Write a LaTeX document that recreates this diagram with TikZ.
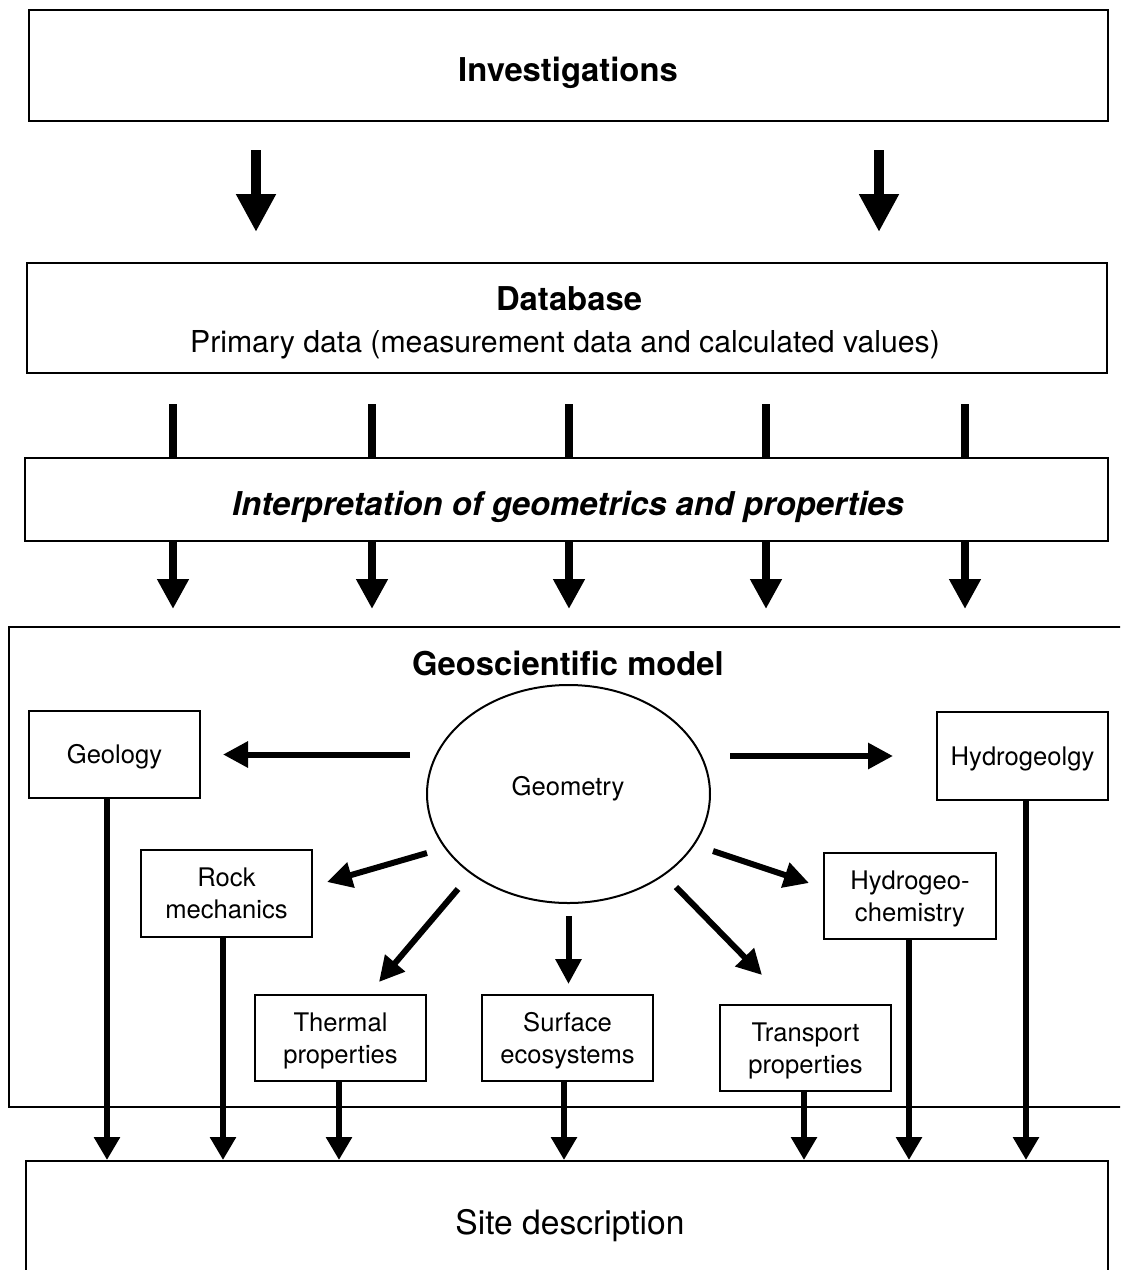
\documentclass[tikz,border=0pt]{standalone}
\usepackage{fontspec}
\setmainfont{TeX Gyre Heros}
\usetikzlibrary{arrows.meta,shapes.geometric}

\begin{document}
\begin{tikzpicture}[x=0.5pt,y=-0.5pt,
  box/.style={draw, line width=1pt, rectangle, inner sep=0pt},
  lab/.style={font=\fontsize{12.8}{16}\selectfont, align=center,
              text height=9.2pt, text depth=0pt},
  lab2/.style={font=\fontsize{12.8}{16}\selectfont, align=center,
              text height=25.2pt, text depth=0pt},
  heading/.style={font=\fontsize{16.4}{20}\selectfont\bfseries, anchor=base},
  bigarrow/.style={line width=5pt, -{Triangle[length=19pt,width=18.75pt]}},
  feed/.style={line width=4pt},
  midarrow/.style={line width=4pt, -{Triangle[length=15pt,width=15pt]}},
  geoarrow/.style={line width=3pt, -{Triangle[length=12.5pt,width=12.5pt]}},
  outarrow/.style={line width=3pt, -{Triangle[length=11.5pt,width=12.5pt]}},
]
\useasboundingbox (0,0) rectangle (1120,1270);
\clip (0,0) rectangle (1120,1270);

% main stages
\node[box, minimum width=539.5pt, minimum height=55.5pt] (inv) at (568.5,65.5) {};
\node[heading] (invT) at (568,81) {Investigations};

\node[box, minimum width=540pt, minimum height=55pt] (db) at (567,318) {};
\node[heading] (dbT) at (569,310) {Database};
\node[font=\fontsize{15.1}{18}\selectfont, anchor=base] (dbS) at (565,352)
  {Primary data (measurement data and calculated values)};

\node[box, minimum width=541.5pt, minimum height=41.5pt] (interp) at (566.5,499.5) {};
\node[heading, font=\fontsize{16.4}{20}\selectfont\bfseries\itshape] (interpT) at (568,515)
  {Interpretation of geometrics and properties};

\node[box, minimum width=565.5pt, minimum height=240pt] (model) at (574.5,867) {};
\node[heading] (modelT) at (568,675) {Geoscientific model};

\node[box, minimum width=541pt, minimum height=64.5pt] (site) at (567,1225.5) {};
\node[font=\fontsize{16.8}{20}\selectfont, anchor=base] (siteT) at (570,1234) {Site description};

% discipline models
\node[draw, line width=1pt, ellipse, inner sep=0pt,
      minimum width=141.5pt, minimum height=109pt] (geom) at (568.5,794) {};
\node[font=\fontsize{12.8}{16}\selectfont, anchor=base] (geomT) at (568,795) {Geometry};

\node[box, lab, minimum width=85.5pt, minimum height=43.5pt] (geol) at (114.5,754.5) {Geology};
\node[box, lab, minimum width=85.5pt, minimum height=44pt] (hydgeol) at (1022.5,756) {Hydrogeolgy};
\node[box, lab2, minimum width=85.5pt, minimum height=43.5pt] (rock) at (226.5,893.5) {Rock\\mechanics};
\node[box, lab2, minimum width=86pt, minimum height=43pt] (hgchem) at (910,896) {Hydrogeo-\\chemistry};
\node[box, lab2, minimum width=85.5pt, minimum height=43pt] (thermal) at (340.5,1038) {Thermal\\properties};
\node[box, lab2, minimum width=85.5pt, minimum height=43pt] (surface) at (567.5,1038) {Surface\\ecosystems};
\node[box, lab2, minimum width=85.5pt, minimum height=43pt] (transport) at (805.5,1048) {Transport\\properties};

% column positions of the vertical connectors
\coordinate (ca) at (256,0);
\coordinate (cb) at (879,0);
\foreach \n/\x in {1/173, 2/372, 3/569, 4/766, 5/965} {
  \coordinate (k\n) at (\x,0);
}
\foreach \n/\x in {1/107, 2/223, 3/339, 4/564, 5/804, 6/909, 7/1026} {
  \coordinate (o\n) at (\x,0);
}

% free ends of the slanted arrows around the geometry
\coordinate (rk1) at (427,853);  \coordinate (rk2) at (327,882);
\coordinate (th1) at (458,889);  \coordinate (th2) at (379,982);
\coordinate (tr1) at (676,887);  \coordinate (tr2) at (762,975);
\coordinate (hc1) at (713,851);  \coordinate (hc2) at (809,883);

% investigations -> database
\draw[bigarrow, shorten <=14pt, shorten >=15pt] (inv.south -| ca) -- (db.north -| ca);
\draw[bigarrow, shorten <=14pt, shorten >=15pt] (inv.south -| cb) -- (db.north -| cb);

% database -> interpretation -> model
\foreach \n in {1,...,5} {
  \draw[feed, shorten <=15pt] (db.south -| k\n) -- (interp.north -| k\n);
  \draw[midarrow, shorten >=8.5pt] (interp.south -| k\n) -- (model.north -| k\n);
}

% geometry -> disciplines
\draw[geoarrow, shorten <=8pt, shorten >=11pt] (geom.west |- geol.east) -- (geol.east);
\draw[geoarrow, shorten <=9.5pt, shorten >=21.5pt] (geom.east |- hydgeol.west) -- (hydgeol.west);
\draw[geoarrow, shorten <=6pt, shorten >=5pt] (geom.south) -- (geom.south |- surface.north);
\draw[geoarrow] (rk1) -- (rk2);
\draw[geoarrow] (th1) -- (th2);
\draw[geoarrow] (tr1) -- (tr2);
\draw[geoarrow] (hc1) -- (hc2);

% disciplines -> site description
\draw[outarrow] (geol.south -| o1) -- (site.north -| o1);
\draw[outarrow] (rock.south -| o2) -- (site.north -| o2);
\draw[outarrow] (thermal.south -| o3) -- (site.north -| o3);
\draw[outarrow] (surface.south -| o4) -- (site.north -| o4);
\draw[outarrow] (transport.south -| o5) -- (site.north -| o5);
\draw[outarrow] (hgchem.south -| o6) -- (site.north -| o6);
\draw[outarrow] (hydgeol.south -| o7) -- (site.north -| o7);
\end{tikzpicture}
\end{document}
